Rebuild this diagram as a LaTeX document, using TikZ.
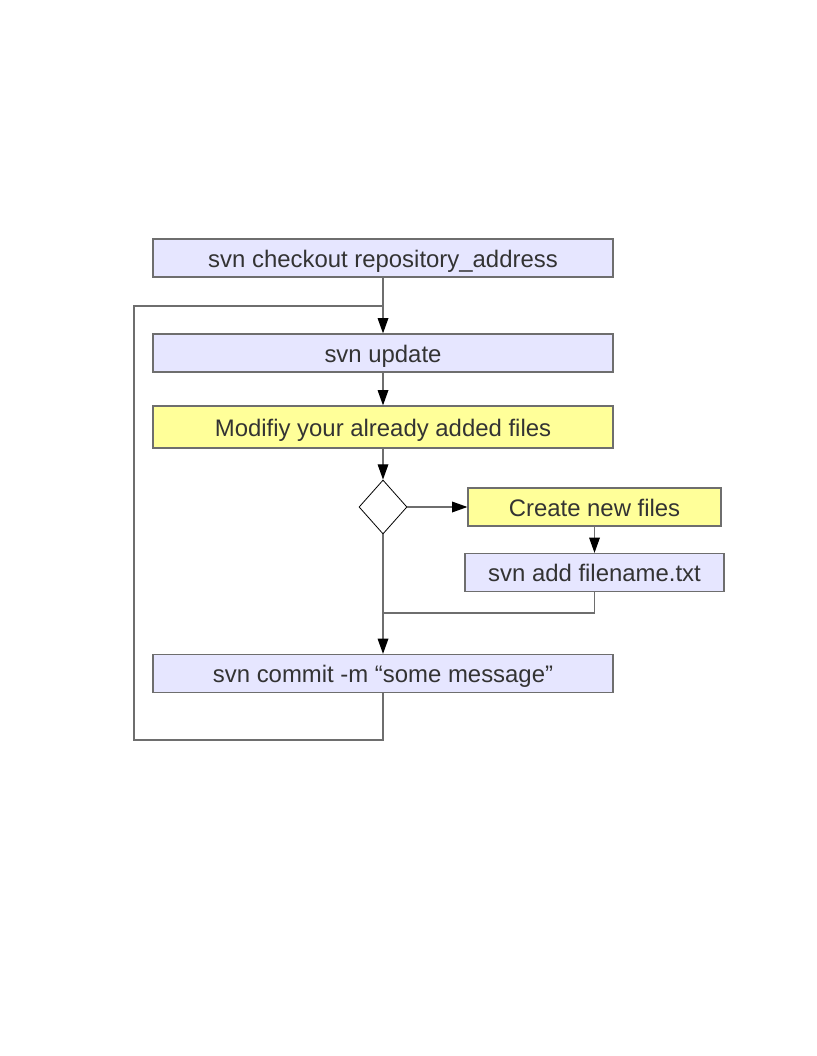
\documentclass[tikz,border=0pt]{standalone}
\usepackage{fontspec}
\setmainfont{Liberation Sans}
\usetikzlibrary{arrows.meta,positioning,shapes.geometric}
\definecolor{svnblue}{HTML}{E6E6FF}
\definecolor{svnyellow}{HTML}{FFFF99}
\definecolor{linegray}{HTML}{6E6E6E}
\definecolor{textgray}{HTML}{333333}

\begin{document}
\begin{tikzpicture}[x=0.75bp, y=-0.75bp,
    box/.style={draw=linegray, line width=0.9bp, fill=svnblue, text=textgray,
      minimum width=345bp, minimum height=28.5bp, inner sep=0pt,
      text height=14bp, text depth=0bp,
      font=\fontsize{18}{21}\selectfont},
    choice/.style={diamond, draw=black, line width=0.6bp, fill=white,
      minimum width=36bp, minimum height=40.5bp, inner sep=0pt},
    link/.style={draw=linegray, line width=0.9bp},
    flow/.style={link, -{Triangle[length=11.5bp, width=8bp, color=black]}}]
  \useasboundingbox (0,0) rectangle (816,1056);

  % main column
  \node[box] (checkout) at (383,258) {svn checkout repository\_address};
  \node[box] (update) at (383,353) {svn update};
  \node[box, fill=svnyellow, minimum height=31.5bp] (modify) at (383,427) {Modifiy your already added files};
  \node[choice] (choice) at (383,507) {};
  \node[box] (commit) at (383,673.5) {svn commit -m “some message”};

  % side branch
  \node[box, fill=svnyellow, minimum width=189.75bp] (create) at (594.5,507) {Create new files};
  \node[box, minimum width=194.25bp] (add) at (594.5,572.5) {svn add filename.txt};

  \coordinate (join) at (383,306);
  \coordinate (merge) at (383,613);
  \coordinate (loopbot) at (134,740);
  \coordinate (looptop) at (134,306);

  \draw[flow] (checkout) -- (update);
  \draw[flow] (update) -- (modify);
  \draw[flow] (modify) -- (choice);
  \draw[flow] (choice) -- (create);
  \draw[flow] (create) -- (add);
  \draw[flow] (choice) -- (commit);
  \draw[link] (add.south) |- (merge);

  % loop back to update
  \draw[link] (commit.south) |- (loopbot) -- (looptop) -- (join);
\end{tikzpicture}
\end{document}
